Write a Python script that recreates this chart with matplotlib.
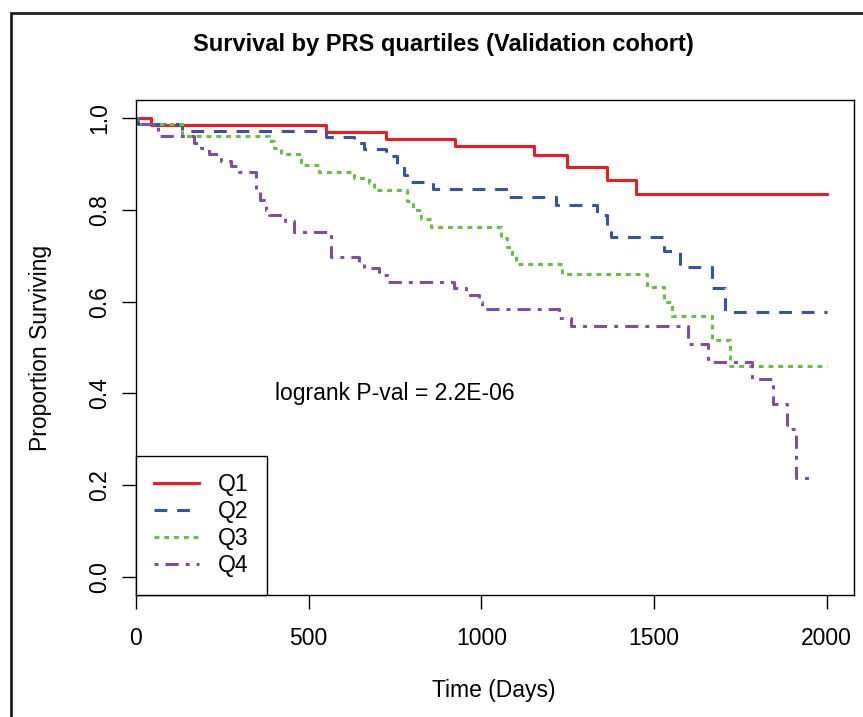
import numpy as np
import matplotlib
matplotlib.use("Agg")
import matplotlib.pyplot as plt
from matplotlib.patches import Rectangle

plt.rcParams['font.family'] = ['Liberation Sans', 'DejaVu Sans']

# Kaplan-Meier step data (time in days, proportion surviving)
q1_time = [0, 43, 550, 723, 923, 1153, 1247, 1363, 1449, 2000]
q1_surv = [1.0, 0.986, 0.970, 0.956, 0.940, 0.919, 0.894, 0.866, 0.834, 0.834]

q2_time = [0, 5, 133, 550, 632, 661, 723, 757, 776, 786, 860, 1081, 1216,
           1336, 1365, 1375, 1529, 1575, 1669, 1705, 2000]
q2_surv = [1.0, 0.987, 0.973, 0.960, 0.946, 0.933, 0.917, 0.895, 0.876, 0.862,
           0.846, 0.829, 0.810, 0.789, 0.765, 0.742, 0.711, 0.676, 0.629, 0.578, 0.578]

q3_time = [0, 5, 133, 386, 400, 420, 478, 530, 632, 675, 690, 786, 801, 825,
           854, 1056, 1075, 1090, 1100, 1233, 1481, 1529, 1553, 1669, 1720, 2000]
q3_surv = [1.0, 0.987, 0.962, 0.950, 0.935, 0.922, 0.898, 0.884, 0.869, 0.858,
           0.844, 0.820, 0.800, 0.780, 0.762, 0.740, 0.720, 0.700, 0.682, 0.660,
           0.631, 0.600, 0.569, 0.517, 0.460, 0.460]

q4_time = [0, 5, 63, 169, 188, 212, 246, 275, 299, 347, 360, 375, 385, 430, 458,
           564, 646, 661, 704, 728, 921, 955, 994, 1003, 1225, 1259, 1597, 1655,
           1785, 1845, 1886, 1910, 1956]
q4_surv = [1.0, 0.987, 0.962, 0.947, 0.935, 0.922, 0.908, 0.895, 0.882, 0.844,
           0.822, 0.800, 0.789, 0.777, 0.751, 0.698, 0.684, 0.673, 0.658, 0.644,
           0.629, 0.615, 0.600, 0.583, 0.564, 0.547, 0.508, 0.469, 0.431, 0.376,
           0.322, 0.215, 0.215]

labels = ['Q1', 'Q2', 'Q3', 'Q4']
x_ticks = [0, 500, 1000, 1500, 2000]
y_ticks = [0.0, 0.2, 0.4, 0.6, 0.8, 1.0]

fs = 16.5

fig = plt.figure(figsize=(8.63, 7.17), dpi=100)
ax = fig.add_axes([136 / 863, 1 - 595 / 717, (854 - 136) / 863, (595 - 100) / 717])

lw = 2.2
ax.step(q1_time, q1_surv, where='post', color='#ED1C24', lw=lw, label=labels[0])
ax.step(q2_time, q2_surv, where='post', color='#3953A4', lw=lw,
        linestyle=(0, (4.2, 3.2)), label=labels[1])
ax.step(q3_time, q3_surv, where='post', color='#6ABD45', lw=lw,
        linestyle=(0, (1.6, 1.6)), label=labels[2])
ax.step(q4_time, q4_surv, where='post', color='#7F4F9F', lw=lw,
        linestyle=(0, (1.3, 2.3, 4.3, 2.3)), label=labels[3])

ax.set_xlim(0, 2079)
ax.set_ylim(-0.04, 1.04)
ax.set_xticks(x_ticks)
ax.set_xticklabels([str(t) for t in x_ticks])
ax.set_yticks(y_ticks)
ax.set_yticklabels(['%.1f' % t for t in y_ticks], rotation=90, va='center')
ax.tick_params(axis='both', length=10, width=1, labelsize=fs, direction='out')
ax.tick_params(axis='x', pad=13)
ax.tick_params(axis='y', pad=8)
for s in ax.spines.values():
    s.set_linewidth(1.0)

ax.text(750, 0.40, 'logrank P-val = 2.2E-06', fontsize=fs, ha='center', va='center')

leg = ax.legend(loc='lower left', borderaxespad=0, fontsize=fs, fancybox=False,
                edgecolor='black', framealpha=1, handlelength=1.95,
                handletextpad=0.85, labelspacing=0.17, borderpad=0.78)
leg.get_frame().set_linewidth(1.0)

fig.text(443 / 863, 1 - 44 / 717, 'Survival by PRS quartiles (Validation cohort)',
         fontsize=17, fontweight='bold', ha='center', va='center')
fig.text(494 / 863, 1 - 690 / 717, 'Time (Days)', fontsize=fs, ha='center', va='center')
fig.text(40 / 863, 1 - 348 / 717, 'Proportion Surviving', fontsize=fs,
         ha='center', va='center', rotation=90)

# outer frame of the panel
fig.patches.append(Rectangle((11 / 863, -0.05), 1.1, 1 - 13 / 717 + 0.05,
                             transform=fig.transFigure, fill=False,
                             edgecolor='#222222', lw=2))

fig.savefig('out.png', dpi=100)
